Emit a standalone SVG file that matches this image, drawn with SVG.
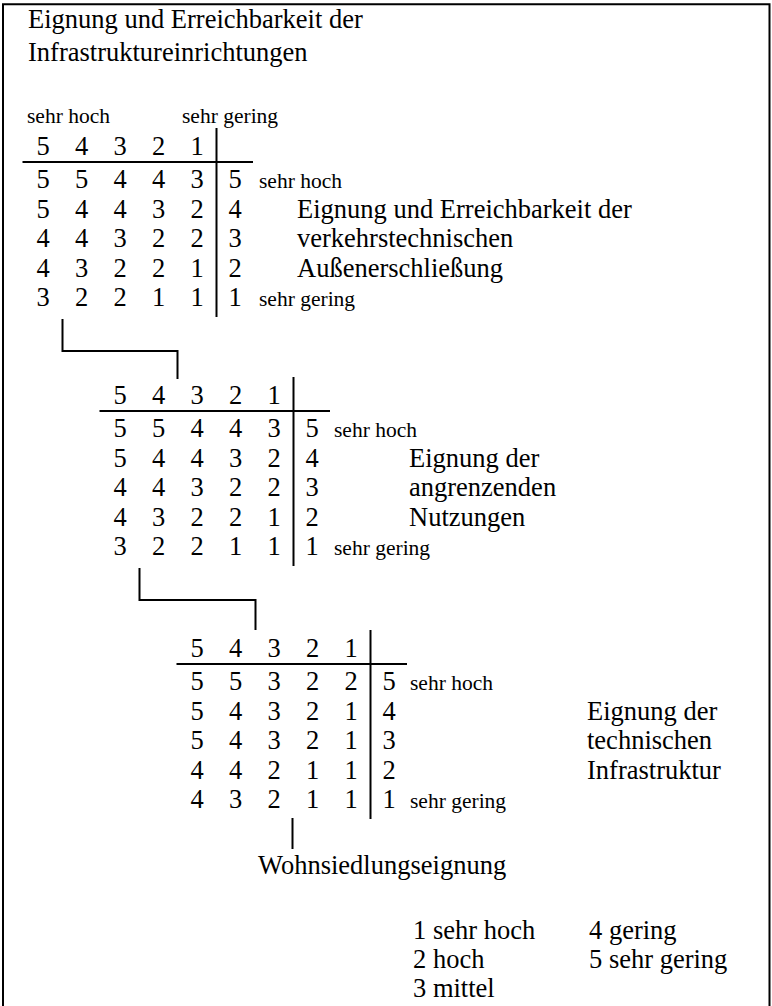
<svg xmlns="http://www.w3.org/2000/svg" width="772" height="1006" viewBox="0 0 772 1006">
<style>
.ln{stroke:#000;stroke-width:2;fill:none}
</style>
<defs>
<g id="grid" font-family="Liberation Serif" font-size="26.5" text-anchor="middle">
<line class="ln" x1="22.5" y1="162" x2="253" y2="162"/>
<line class="ln" x1="216.5" y1="128" x2="216.5" y2="317"/>
<text x="43" y="155">5</text><text x="81.5" y="155">4</text><text x="120" y="155">3</text><text x="158.5" y="155">2</text><text x="197" y="155">1</text>
<text x="235" y="188">5</text>
<text x="235" y="217.5">4</text>
<text x="235" y="247">3</text>
<text x="235" y="276.5">2</text>
<text x="235" y="306">1</text>
</g>
</defs>
<path class="ln" d="M3,1006 V4.3 H769.5 V1006" stroke-width="2.4"/>
<g font-family="Liberation Serif" font-size="26.5">
<g id="title">
<text x="28" y="28">Eignung und Erreichbarkeit der</text>
<text x="28" y="61">Infrastruktureinrichtungen</text>
</g>
<g id="table1">
<text font-size="21.5" x="27" y="123">sehr hoch</text>
<text font-size="21.5" x="182" y="123">sehr gering</text>
<use href="#grid"/>
<g text-anchor="middle">
<text y="188"><tspan x="43">5</tspan><tspan x="81.5">5</tspan><tspan x="120">4</tspan><tspan x="158.5">4</tspan><tspan x="197">3</tspan></text>
<text y="217.5"><tspan x="43">5</tspan><tspan x="81.5">4</tspan><tspan x="120">4</tspan><tspan x="158.5">3</tspan><tspan x="197">2</tspan></text>
<text y="247"><tspan x="43">4</tspan><tspan x="81.5">4</tspan><tspan x="120">3</tspan><tspan x="158.5">2</tspan><tspan x="197">2</tspan></text>
<text y="276.5"><tspan x="43">4</tspan><tspan x="81.5">3</tspan><tspan x="120">2</tspan><tspan x="158.5">2</tspan><tspan x="197">1</tspan></text>
<text y="306"><tspan x="43">3</tspan><tspan x="81.5">2</tspan><tspan x="120">2</tspan><tspan x="158.5">1</tspan><tspan x="197">1</tspan></text>
</g>
<text font-size="21.5" x="259" y="188">sehr hoch</text>
<text font-size="21.5" x="259" y="306">sehr gering</text>
<text x="297" y="217.5">Eignung und Erreichbarkeit der</text>
<text x="297" y="247">verkehrstechnischen</text>
<text x="297" y="276.5">Außenerschließung</text>
</g>
<g id="table2">
<g transform="translate(77,249)">
<use href="#grid"/>
<g text-anchor="middle">
<text y="188"><tspan x="43">5</tspan><tspan x="81.5">5</tspan><tspan x="120">4</tspan><tspan x="158.5">4</tspan><tspan x="197">3</tspan></text>
<text y="217.5"><tspan x="43">5</tspan><tspan x="81.5">4</tspan><tspan x="120">4</tspan><tspan x="158.5">3</tspan><tspan x="197">2</tspan></text>
<text y="247"><tspan x="43">4</tspan><tspan x="81.5">4</tspan><tspan x="120">3</tspan><tspan x="158.5">2</tspan><tspan x="197">2</tspan></text>
<text y="276.5"><tspan x="43">4</tspan><tspan x="81.5">3</tspan><tspan x="120">2</tspan><tspan x="158.5">2</tspan><tspan x="197">1</tspan></text>
<text y="306"><tspan x="43">3</tspan><tspan x="81.5">2</tspan><tspan x="120">2</tspan><tspan x="158.5">1</tspan><tspan x="197">1</tspan></text>
</g>
</g>
<text font-size="21.5" x="334" y="437">sehr hoch</text>
<text font-size="21.5" x="334" y="555">sehr gering</text>
<text x="409" y="466.5">Eignung der</text>
<text x="409" y="496">angrenzenden</text>
<text x="409" y="525.5">Nutzungen</text>
</g>
<g id="table3">
<g transform="translate(154,502)">
<use href="#grid"/>
<g text-anchor="middle">
<text y="188"><tspan x="43">5</tspan><tspan x="81.5">5</tspan><tspan x="120">3</tspan><tspan x="158.5">2</tspan><tspan x="197">2</tspan></text>
<text y="217.5"><tspan x="43">5</tspan><tspan x="81.5">4</tspan><tspan x="120">3</tspan><tspan x="158.5">2</tspan><tspan x="197">1</tspan></text>
<text y="247"><tspan x="43">5</tspan><tspan x="81.5">4</tspan><tspan x="120">3</tspan><tspan x="158.5">2</tspan><tspan x="197">1</tspan></text>
<text y="276.5"><tspan x="43">4</tspan><tspan x="81.5">4</tspan><tspan x="120">2</tspan><tspan x="158.5">1</tspan><tspan x="197">1</tspan></text>
<text y="306"><tspan x="43">4</tspan><tspan x="81.5">3</tspan><tspan x="120">2</tspan><tspan x="158.5">1</tspan><tspan x="197">1</tspan></text>
</g>
</g>
<text font-size="21.5" x="410" y="690">sehr hoch</text>
<text font-size="21.5" x="410" y="808">sehr gering</text>
<text x="587" y="719.5">Eignung der</text>
<text x="587" y="749">technischen</text>
<text x="587" y="778.5">Infrastruktur</text>
</g>
<g id="result">
<text x="258" y="874">Wohnsiedlungseignung</text>
</g>
<g id="legend">
<text x="413" y="939">1 sehr hoch</text>
<text x="413" y="968">2 hoch</text>
<text x="413" y="997">3 mittel</text>
<text x="589" y="939">4 gering</text>
<text x="589" y="968">5 sehr gering</text>
</g>
</g>
<g id="connectors">
<path class="ln" d="M62.5,319 V351 H177.5 V379"/>
<path class="ln" d="M139.5,568 V600 H255.5 V630"/>
<path class="ln" d="M292.5,818 V849"/>
</g>
</svg>
